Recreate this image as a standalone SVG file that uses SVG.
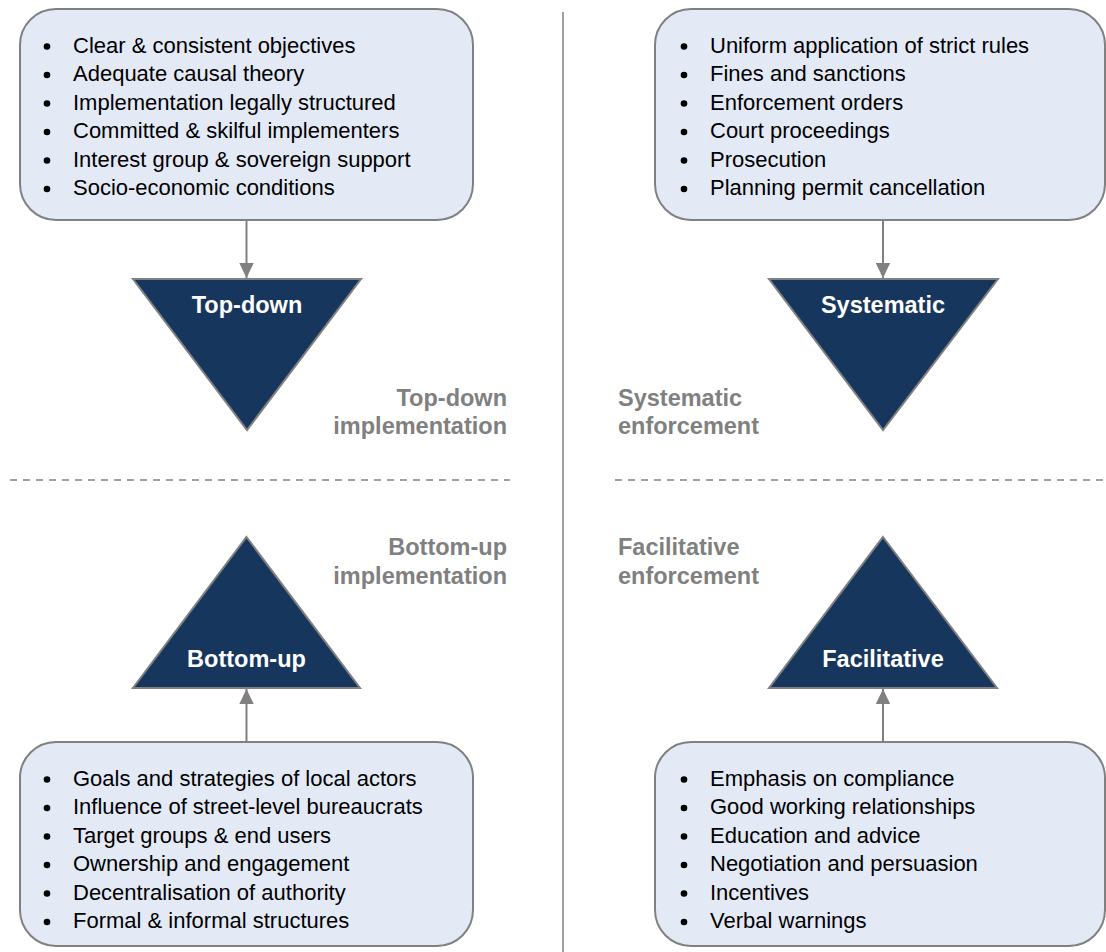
<svg xmlns="http://www.w3.org/2000/svg" width="1106" height="952" viewBox="0 0 1106 952">
<defs>
<marker id="ah" viewBox="0 0 10 10" refX="10" refY="5" markerWidth="15" markerHeight="15" markerUnits="userSpaceOnUse" orient="auto">
<path d="M0,0.2 L10,5 L0,9.8 Z" fill="#808080"/>
</marker>
<style>
.box{fill:#E3EAF6;stroke:#808080;stroke-width:2}
.tri{fill:#17365D;stroke:#808080;stroke-width:2}
.item{font-family:"Liberation Sans",Arial,sans-serif;font-size:22px;fill:#000}
.blt{fill:#000}
.wl{font-family:"Liberation Sans",Arial,sans-serif;font-size:23.5px;font-weight:bold;fill:#fff;text-anchor:middle}
.gl{font-family:"Liberation Sans",Arial,sans-serif;font-size:23.5px;font-weight:bold;fill:#808080}
.conn{stroke:#808080;stroke-width:2;fill:none}
.dash{stroke:#808080;stroke-width:1.5;stroke-dasharray:7 6;fill:none}
</style>
</defs>
<rect width="1106" height="952" fill="#fff"/>

<g id="separators">
<line x1="563" y1="12" x2="563" y2="952" stroke="#808080" stroke-width="1.5"/>
<line class="dash" x1="10" y1="480" x2="510" y2="480"/>
<line class="dash" x1="615" y1="480" x2="1106" y2="480"/>
</g>

<g id="connectors">
<line class="conn" x1="246.5" y1="220" x2="246.5" y2="278" marker-end="url(#ah)"/>
<line class="conn" x1="883" y1="220" x2="883" y2="278" marker-end="url(#ah)"/>
<line class="conn" x1="246.5" y1="742" x2="246.5" y2="689" marker-end="url(#ah)"/>
<line class="conn" x1="883" y1="742" x2="883" y2="689" marker-end="url(#ah)"/>
</g>

<g id="box-topdown-factors">
<rect class="box" x="20" y="9" width="453" height="211" rx="36" ry="36"/>
<g class="blt">
<circle cx="47" cy="46.5" r="3.3"/><circle cx="47" cy="75" r="3.3"/><circle cx="47" cy="103.5" r="3.3"/>
<circle cx="47" cy="132" r="3.3"/><circle cx="47" cy="160.5" r="3.3"/><circle cx="47" cy="189" r="3.3"/>
</g>
<text class="item" x="73" y="52.5">Clear &amp; consistent objectives</text>
<text class="item" x="73" y="81">Adequate causal theory</text>
<text class="item" x="73" y="109.5">Implementation legally structured</text>
<text class="item" x="73" y="138">Committed &amp; skilful implementers</text>
<text class="item" x="73" y="166.5">Interest group &amp; sovereign support</text>
<text class="item" x="73" y="195">Socio-economic conditions</text>
</g>

<g id="box-systematic-factors">
<rect class="box" x="655" y="9" width="450" height="211" rx="36" ry="36"/>
<g class="blt">
<circle cx="684" cy="46.5" r="3.3"/><circle cx="684" cy="75" r="3.3"/><circle cx="684" cy="103.5" r="3.3"/>
<circle cx="684" cy="132" r="3.3"/><circle cx="684" cy="160.5" r="3.3"/><circle cx="684" cy="189" r="3.3"/>
</g>
<text class="item" x="710" y="52.5">Uniform application of strict rules</text>
<text class="item" x="710" y="81">Fines and sanctions</text>
<text class="item" x="710" y="109.5">Enforcement orders</text>
<text class="item" x="710" y="138">Court proceedings</text>
<text class="item" x="710" y="166.5">Prosecution</text>
<text class="item" x="710" y="195">Planning permit cancellation</text>
</g>

<g id="tri-topdown">
<polygon class="tri" points="133,279 361,279 247,430"/>
<text class="wl" x="247" y="313">Top-down</text>
</g>

<g id="tri-systematic">
<polygon class="tri" points="769,279 998,279 883,430"/>
<text class="wl" x="883" y="313">Systematic</text>
</g>

<g id="label-topdown">
<text class="gl" x="507" y="405.5" text-anchor="end">Top-down</text>
<text class="gl" x="507" y="434" text-anchor="end">implementation</text>
</g>

<g id="label-systematic">
<text class="gl" x="618" y="405.5">Systematic</text>
<text class="gl" x="618" y="434">enforcement</text>
</g>

<g id="label-bottomup">
<text class="gl" x="507" y="555" text-anchor="end">Bottom-up</text>
<text class="gl" x="507" y="583.5" text-anchor="end">implementation</text>
</g>

<g id="label-facilitative">
<text class="gl" x="618" y="555">Facilitative</text>
<text class="gl" x="618" y="583.5">enforcement</text>
</g>

<g id="tri-bottomup">
<polygon class="tri" points="246.5,537 360,688 133,688"/>
<text class="wl" x="246.5" y="667">Bottom-up</text>
</g>

<g id="tri-facilitative">
<polygon class="tri" points="883,537 997,688 769,688"/>
<text class="wl" x="883" y="667">Facilitative</text>
</g>

<g id="box-bottomup-factors">
<rect class="box" x="20" y="742" width="453" height="204" rx="36" ry="36"/>
<g class="blt">
<circle cx="47" cy="779.5" r="3.3"/><circle cx="47" cy="808" r="3.3"/><circle cx="47" cy="836.5" r="3.3"/>
<circle cx="47" cy="865" r="3.3"/><circle cx="47" cy="893.5" r="3.3"/><circle cx="47" cy="922" r="3.3"/>
</g>
<text class="item" x="73" y="785.5">Goals and strategies of local actors</text>
<text class="item" x="73" y="814">Influence of street-level bureaucrats</text>
<text class="item" x="73" y="842.5">Target groups &amp; end users</text>
<text class="item" x="73" y="871">Ownership and engagement</text>
<text class="item" x="73" y="899.5">Decentralisation of authority</text>
<text class="item" x="73" y="928">Formal &amp; informal structures</text>
</g>

<g id="box-facilitative-factors">
<rect class="box" x="655" y="742" width="450" height="204" rx="36" ry="36"/>
<g class="blt">
<circle cx="684" cy="779.5" r="3.3"/><circle cx="684" cy="808" r="3.3"/><circle cx="684" cy="836.5" r="3.3"/>
<circle cx="684" cy="865" r="3.3"/><circle cx="684" cy="893.5" r="3.3"/><circle cx="684" cy="922" r="3.3"/>
</g>
<text class="item" x="710" y="785.5">Emphasis on compliance</text>
<text class="item" x="710" y="814">Good working relationships</text>
<text class="item" x="710" y="842.5">Education and advice</text>
<text class="item" x="710" y="871">Negotiation and persuasion</text>
<text class="item" x="710" y="899.5">Incentives</text>
<text class="item" x="710" y="928">Verbal warnings</text>
</g>
</svg>
